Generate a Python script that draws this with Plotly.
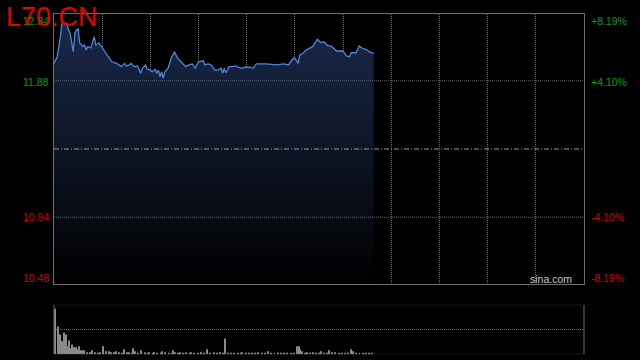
import plotly.graph_objects as go

W, H = 640, 360

# ---------------- data ----------------
title_text = "L70.CN"
prev_close = 11.41
price_ticks = [12.34, 11.88, 11.41, 10.94, 10.48]
left_labels = ["12.34", "11.88", "10.94", "10.48"]
right_labels = ["+8.19%", "+4.10%", "-4.10%", "-8.19%"]
label_prices = [12.34, 11.88, 10.94, 10.48]
label_colors = ["#00a000", "#00a000", "#d00000", "#d00000"]

minutes = [0, 2, 4, 5, 7, 8, 9, 10, 12, 13, 14, 15, 16, 18, 19, 20, 21, 23, 25, 26,
           28, 30, 31, 32, 34, 36, 39, 42, 44, 45, 47, 48, 50, 52, 54, 55, 57, 58, 60, 61,
           63, 64, 65, 66, 67, 68, 69, 71, 73, 75, 77, 80, 82, 84, 86, 88, 90, 93, 94, 96,
           98, 100, 102, 104, 105, 106, 107, 108, 109, 111, 113, 115, 117, 119, 122, 124, 126, 132, 139, 143,
           146, 147, 149, 150, 152, 153, 155, 157, 159, 161, 164, 166, 168, 170, 173, 176, 180, 182, 184, 185,
           188, 190, 192, 194, 197, 199]
prices = [12.000, 12.046, 12.184, 12.287, 12.264, 12.278, 12.230, 12.209, 12.080, 12.209,
          12.230, 12.237, 12.140, 12.115, 12.126, 12.092, 12.115, 12.106, 12.184, 12.126,
          12.140, 12.106, 12.092, 12.080, 12.046, 12.011, 12.000, 11.977, 12.000, 11.982,
          11.989, 12.000, 11.977, 11.982, 11.931, 11.966, 11.989, 11.959, 11.954, 11.942,
          11.959, 11.931, 11.954, 11.908, 11.942, 11.897, 11.942, 11.966, 12.035, 12.080,
          12.035, 12.000, 11.977, 11.989, 11.996, 11.966, 12.011, 12.018, 11.989, 11.996,
          11.989, 11.954, 11.954, 11.966, 11.931, 11.966, 11.936, 11.954, 11.977, 11.977,
          11.982, 11.973, 11.966, 11.973, 11.973, 11.966, 11.996, 11.996, 11.989, 11.996,
          11.989, 12.005, 12.035, 12.035, 12.000, 12.058, 12.069, 12.092, 12.104, 12.115,
          12.166, 12.142, 12.149, 12.126, 12.115, 12.085, 12.085, 12.051, 12.046, 12.073,
          12.073, 12.120, 12.104, 12.097, 12.076, 12.069]

volumes = [46, 0, 28, 20, 14, 13, 22, 20, 8, 14,
           6, 10, 7, 7, 5, 8, 4, 4, 4, 0,
           2, 0, 2, 4, 0, 2, 0, 1, 2, 0,
           8, 0, 3, 0, 3, 2, 0, 2, 3, 0,
           2, 0, 1, 5, 0, 2, 2, 0, 1, 6,
           3, 0, 1, 0, 4, 0, 2, 0, 1, 2,
           0, 1, 2, 0, 1, 0, 1, 3, 0, 2,
           0, 1, 0, 1, 4, 2, 0, 1, 2, 0,
           1, 0, 2, 0, 1, 2, 0, 1, 0, 1,
           0, 2, 0, 1, 0, 5, 0, 1, 0, 2,
           0, 1, 0, 2, 0, 1, 16, 0, 1, 0,
           1, 0, 1, 0, 1, 0, 1, 2, 0, 1,
           0, 1, 0, 1, 0, 1, 0, 2, 0, 1,
           0, 1, 0, 3, 0, 1, 0, 1, 0, 1,
           0, 1, 0, 1, 0, 1, 0, 1, 0, 1,
           0, 8, 8, 5, 3, 0, 1, 2, 0, 1,
           0, 2, 0, 1, 0, 1, 3, 0, 1, 0,
           1, 4, 0, 2, 0, 2, 0, 1, 0, 1,
           0, 1, 0, 1, 0, 5, 3, 0, 1, 0,
           1, 0, 1, 0, 1, 0, 1, 0, 1, 0]
vol_minutes = list(range(len(volumes)))

session_len = 330
grid_step = 30
vol_max = 50

# ---------------- layout geometry (pixels) ----------------
PL, PR = 54, 584
MT, MB = 14, 284
VT, VB = 304.7, 354.3


def px(x):
    return x / W


def py(y):
    return 1 - y / H


BORDER = "#6e6e6e"
GRID = "#6a6a6a"

fig = go.Figure()

fig.add_trace(go.Scatter(
    x=minutes, y=prices, mode="lines",
    line=dict(color="#4d86dc", width=1.3),
    fill="tozeroy",
    fillgradient=dict(type="vertical", start=price_ticks[-1], stop=price_ticks[0],
                      colorscale=[[0, "#000000"], [1, "#1b2a4a"]]),
    xaxis="x", yaxis="y", hoverinfo="skip", showlegend=False,
))

fig.add_trace(go.Bar(
    x=vol_minutes, y=volumes, width=0.6,
    marker=dict(color="#8a8a8a", line=dict(width=0)),
    xaxis="x2", yaxis="y2", hoverinfo="skip", showlegend=False,
))

fig.update_layout(
    width=W, height=H,
    margin=dict(l=0, r=0, t=0, b=0),
    paper_bgcolor="#000000", plot_bgcolor="#000000",
    xaxis=dict(domain=[px(PL), px(PR)], range=[0, session_len],
               tickvals=list(range(grid_step, session_len, grid_step)),
               showticklabels=False, showgrid=True, gridcolor=GRID, griddash="1px,1px",
               gridwidth=1, zeroline=False, showline=True, mirror=True,
               linecolor=BORDER, linewidth=1, fixedrange=True),
    yaxis=dict(domain=[py(MB), py(MT)], range=[price_ticks[-1], price_ticks[0]],
               showticklabels=False, showgrid=False, zeroline=False,
               showline=True, mirror=True, linecolor=BORDER, linewidth=1),
    xaxis2=dict(domain=[px(PL), px(PR)], range=[-0.5, session_len], anchor="y2",
                showticklabels=False, showgrid=False, zeroline=False, showline=False),
    yaxis2=dict(domain=[py(VB), py(VT)], range=[0, vol_max], anchor="x2",
                showticklabels=False, showgrid=False, zeroline=False, showline=False),
)

shapes = []
for p in [price_ticks[1], price_ticks[3]]:
    shapes.append(dict(type="line", xref="x", yref="y", x0=0, x1=session_len, y0=p, y1=p,
                       line=dict(color=GRID, width=1, dash="1px,1px")))
shapes.append(dict(type="line", xref="x", yref="y", x0=0, x1=session_len,
                   y0=prev_close, y1=prev_close,
                   line=dict(color="#9a9a9a", width=1, dash="5px,2px,1px,2px")))
# volume panel frame
for yv in [0, vol_max / 2, vol_max]:
    shapes.append(dict(type="line", xref="paper", yref="y2", x0=px(PL), x1=px(PR), y0=yv, y1=yv,
                       line=dict(color=GRID, width=1, dash="1px,1px")))
for xv in [PL, PR]:
    shapes.append(dict(type="line", xref="paper", yref="y2", x0=px(xv), x1=px(xv), y0=0, y1=vol_max,
                       line=dict(color=BORDER, width=1)))
fig.update_layout(shapes=shapes)

FONT = "Liberation Sans, Arial, sans-serif"
ann = []
label_py = {12.34: 21, 11.88: 82, 10.94: 217, 10.48: 278}
for lab, rlab, p, c in zip(left_labels, right_labels, label_prices, label_colors):
    yy = py(label_py[p])
    ann.append(dict(x=px(51), y=yy, xref="paper", yref="paper", text=lab, showarrow=False,
                    xanchor="right", yanchor="middle", font=dict(family=FONT, size=10.5, color=c)))
    ann.append(dict(x=px(589), y=yy, xref="paper", yref="paper", text=rlab, showarrow=False,
                    xanchor="left", yanchor="middle", font=dict(family=FONT, size=10.5, color=c)))
ann.append(dict(x=px(4), y=py(17), xref="paper", yref="paper", text=title_text, showarrow=False,
                xanchor="left", yanchor="middle", font=dict(family=FONT, size=27, color="#e60000")))
ann.append(dict(x=px(574), y=py(279), xref="paper", yref="paper", text="sina.com", showarrow=False,
                xanchor="right", yanchor="middle", font=dict(family=FONT, size=10.5, color="#c8c8c8")))
fig.update_layout(annotations=ann)

fig.write_html("out.html")
